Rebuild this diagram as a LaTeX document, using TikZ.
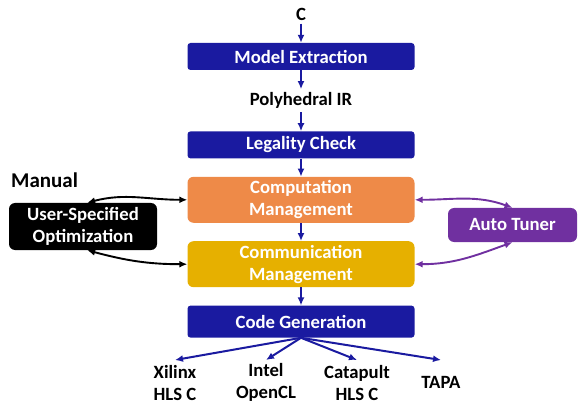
\documentclass[tikz,border=0pt]{standalone}
\usepackage{fontspec}
\setmainfont{Carlito}
\usetikzlibrary{positioning, arrows.meta, calc}

\definecolor{flowblue}{RGB}{26,26,160}
\definecolor{compor}{RGB}{238,138,72}
\definecolor{commgold}{RGB}{230,176,0}
\definecolor{tunerpurple}{RGB}{112,48,160}
\newcommand{\figfont}{\fontsize{18.7}{22}\selectfont\bfseries}

\begin{document}
\begin{tikzpicture}[x=1pt, y=1pt,
  word/.style={font=\figfont, align=center},
  stage/.style={fill=flowblue, rounded corners=3pt, minimum width=227pt,
                minimum height=27pt, text=white, font=\figfont},
  mgmt/.style={fill=#1, rounded corners=6pt, minimum width=227pt,
               minimum height=46pt, text=white, font=\figfont, align=center},
  side/.style={fill=#1, rounded corners=6pt, text=white, font=\figfont, align=center},
  target/.style={font=\figfont, align=center, anchor=north, inner sep=0pt,
                 minimum height=45pt},
  arr/.style={-{Latex[length=8pt, width=7pt]}, line width=2pt, color=flowblue},
  both/.style={{Latex[length=8pt, width=7pt]}-{Latex[length=8pt, width=7pt]},
               line width=1.9pt, color=#1},
]
\useasboundingbox (0,0) rectangle (578,-406);

% --- Nodes ---

% Main flow
\node[word] (src) at (301,-14) {C};
\node[stage] (me) at (301,-56.5) {Model Extraction};
\node[stage, below=61pt of me] (lc) {Legality Check};
\node[word] (ir) at ($(me.south)!0.5!(lc.north)$) {Polyhedral IR};
\node[mgmt=compor, below=18pt of lc] (comp) {Computation\\Management};
\node[mgmt=commgold, below=18pt of comp] (comm) {Communication\\Management};
\node[stage, minimum height=32pt, below=18pt of comm] (cg) {Code Generation};

% Side boxes
\node[side=black, minimum width=148pt, minimum height=47pt] (uso) at (83,-226.5)
  {User-Specified\\Optimization};
\node[font=\fontsize{21}{24}\selectfont\bfseries, anchor=west, inner sep=0pt]
  (manual) at (11,-180) {Manual};
\node[side=tunerpurple, minimum width=129pt, minimum height=34pt] (tuner) at (512.5,-225)
  {Auto Tuner};

% Backends
\node[target] (xil) at (175,-360) {Xilinx\\HLS C};
\node[target] (intel) at (266,-360) {Intel\\OpenCL};
\node[target] (cat) at (357,-360) {Catapult\\HLS C};
\node[target] (tapa) at (441,-360) {TAPA};

% --- Arrows ---
\draw[arr] (src) -- (me);
\draw[arr] (me) -- (ir);
\draw[arr] (ir) -- (lc);
\draw[arr] (lc) -- (comp);
\draw[arr] (comp) -- (comm);
\draw[arr] (comm) -- (cg);
\foreach \t in {xil, intel, cat, tapa}
  \draw[arr] (cg.south) -- (\t.north);

\draw[both=black] (uso.80) to[out=15, in=180] (comp.west);
\draw[both=black] (uso.-80) to[out=-15, in=180] (comm.west);
\draw[both=tunerpurple] (comp.east) to[out=0, in=160] (tuner.north);
\draw[both=tunerpurple] (comm.east) to[out=0, in=200] (tuner.south);

\end{tikzpicture}
\end{document}
